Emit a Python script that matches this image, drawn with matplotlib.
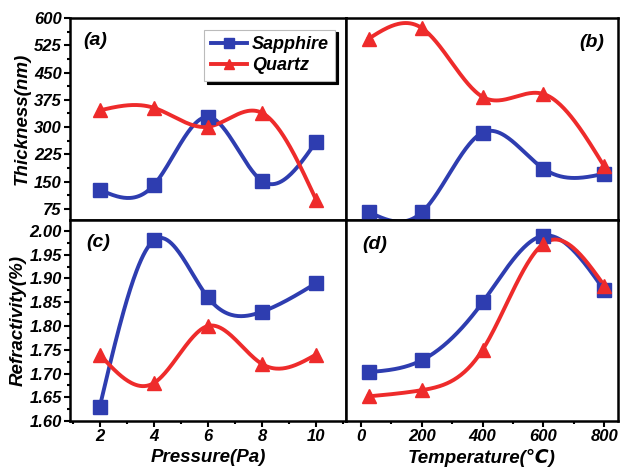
import numpy as np
import matplotlib.pyplot as plt
from matplotlib.ticker import MultipleLocator, AutoMinorLocator

# Data
pressure = [2, 4, 6, 8, 10]
temperature = [25, 200, 400, 600, 800]

thick_p_sapphire = [128, 141, 328, 152, 260]
thick_p_quartz = [346, 353, 301, 339, 100]
thick_t_sapphire = [67, 66, 285, 186, 172]
thick_t_quartz = [543, 572, 383, 391, 192]

refr_p_sapphire = [1.63, 1.98, 1.86, 1.83, 1.89]
refr_p_quartz = [1.74, 1.68, 1.80, 1.72, 1.74]
refr_t_sapphire = [1.703, 1.728, 1.85, 1.99, 1.875]
refr_t_quartz = [1.652, 1.665, 1.75, 1.973, 1.885]

BLUE = '#2E3DB0'
RED = '#EE2B2B'
FONT = ['Liberation Sans', 'DejaVu Sans']


def natural_spline(x, y, n=200):
    """Natural cubic spline through the points (like Origin's spline line)."""
    x = np.asarray(x, float)
    y = np.asarray(y, float)
    k = len(x)
    h = np.diff(x)
    A = np.zeros((k, k))
    b = np.zeros(k)
    A[0, 0] = A[-1, -1] = 1
    for i in range(1, k - 1):
        A[i, i - 1] = h[i - 1]
        A[i, i] = 2 * (h[i - 1] + h[i])
        A[i, i + 1] = h[i]
        b[i] = 3 * ((y[i + 1] - y[i]) / h[i] - (y[i] - y[i - 1]) / h[i - 1])
    c = np.linalg.solve(A, b)
    xs = np.linspace(x[0], x[-1], n)
    idx = np.clip(np.searchsorted(x, xs) - 1, 0, k - 2)
    dx = xs - x[idx]
    bb = (y[1:] - y[:-1]) / h - h * (2 * c[:-1] + c[1:]) / 3
    d = (c[1:] - c[:-1]) / (3 * h)
    ys = y[idx] + bb[idx] * dx + c[idx] * dx ** 2 + d[idx] * dx ** 3
    return xs, ys


def draw(ax, x, y, color, marker, label):
    xs, ys = natural_spline(x, y)
    ax.plot(xs, ys, color=color, lw=2.8, zorder=2)
    ax.plot(x, y, ls='none', marker=marker, ms=10, color=color, zorder=3)
    # proxy for legend (smaller marker, long line)
    ax.plot([], [], color=color, lw=2.8, marker=marker, ms=7, label=label)


def style(ax, show_x, show_y):
    for s in ax.spines.values():
        s.set_linewidth(1.8)
    ax.tick_params(which='both', direction='out', width=1.5,
                   labelsize=12, top=False, right=False, pad=2)
    ax.tick_params(which='major', length=4)
    ax.tick_params(which='minor', length=2.5)
    if not show_x:
        ax.tick_params(axis='x', which='both', bottom=False, labelbottom=False)
    if not show_y:
        ax.tick_params(axis='y', which='both', left=False, labelleft=False)
    for t in ax.get_xticklabels() + ax.get_yticklabels():
        t.set_fontfamily(FONT)
        t.set_fontweight('bold')
        t.set_fontstyle('italic')


fig = plt.figure(figsize=(6.21, 4.71), dpi=100)
L, M, R = 0.1127, 0.557, 0.995
B, C, T = 0.106, 0.533, 0.962
ax_a = fig.add_axes([L, C, M - L, T - C])
ax_b = fig.add_axes([M, C, R - M, T - C])
ax_c = fig.add_axes([L, B, M - L, C - B])
ax_d = fig.add_axes([M, B, R - M, C - B])

draw(ax_a, pressure, thick_p_sapphire, BLUE, 's', 'Sapphire')
draw(ax_a, pressure, thick_p_quartz, RED, '^', 'Quartz')
draw(ax_b, temperature, thick_t_sapphire, BLUE, 's', 'Sapphire')
draw(ax_b, temperature, thick_t_quartz, RED, '^', 'Quartz')
draw(ax_c, pressure, refr_p_sapphire, BLUE, 's', 'Sapphire')
draw(ax_c, pressure, refr_p_quartz, RED, '^', 'Quartz')
draw(ax_d, temperature, refr_t_sapphire, BLUE, 's', 'Sapphire')
draw(ax_d, temperature, refr_t_quartz, RED, '^', 'Quartz')

for ax in (ax_a, ax_c):
    ax.set_xlim(0.9, 11.1)
    ax.xaxis.set_major_locator(MultipleLocator(2))
    ax.xaxis.set_minor_locator(MultipleLocator(1))
for ax in (ax_b, ax_d):
    ax.set_xlim(-50, 845)
    ax.xaxis.set_major_locator(MultipleLocator(200))
    ax.xaxis.set_minor_locator(MultipleLocator(100))
for ax in (ax_a, ax_b):
    ax.set_ylim(45, 600)
    ax.yaxis.set_major_locator(MultipleLocator(75))
    ax.yaxis.set_minor_locator(AutoMinorLocator(2))
for ax in (ax_c, ax_d):
    ax.set_ylim(1.60, 2.023)
    ax.yaxis.set_major_locator(MultipleLocator(0.05))
    ax.yaxis.set_minor_locator(AutoMinorLocator(2))
    ax.yaxis.set_major_formatter(plt.FormatStrFormatter('%.2f'))

style(ax_a, False, True)
style(ax_b, False, False)
style(ax_c, True, True)
style(ax_d, True, False)

lab = dict(family=FONT, weight='bold', style='italic', fontsize=13.5)
ax_a.set_ylabel('Thickness(nm)', labelpad=2, **lab)
ax_c.set_ylabel('Refractivity(%)', labelpad=2, **lab)
ax_c.set_xlabel('Pressure(Pa)', labelpad=3, **lab)
ax_d.set_xlabel('Temperature(℃)', labelpad=3, **lab)

pl = dict(family=FONT, weight='bold', style='italic', fontsize=14)
ax_a.text(0.05, 0.93, '(a)', transform=ax_a.transAxes, va='top', **pl)
ax_b.text(0.95, 0.92, '(b)', transform=ax_b.transAxes, va='top', ha='right', **pl)
ax_c.text(0.06, 0.93, '(c)', transform=ax_c.transAxes, va='top', **pl)
ax_d.text(0.06, 0.92, '(d)', transform=ax_d.transAxes, va='top', **pl)

leg = ax_a.legend(loc='upper right', bbox_to_anchor=(0.975, 0.96),
                  prop=dict(family=FONT, weight='bold', style='italic', size=13),
                  frameon=True, fancybox=False,
                  shadow={'color': 'black', 'alpha': 1.0},
                  handlelength=2.0, borderpad=0.35, labelspacing=0.25,
                  handletextpad=0.3, borderaxespad=0.2)
leg.get_frame().set_edgecolor('#BBBBBB')
leg.get_frame().set_linewidth(0.8)

fig.savefig('out.png', dpi=100)
